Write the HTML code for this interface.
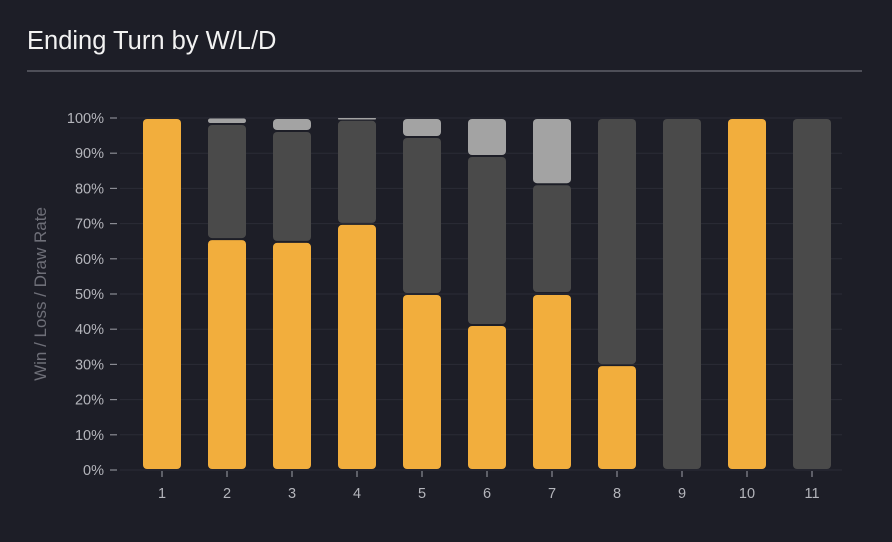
<!DOCTYPE html>
<html><head><style>
body{margin:0;background:#1d1e27;}
</style></head><body>
<svg width="892" height="542" xmlns="http://www.w3.org/2000/svg" style="display:block;font-family:'Liberation Sans',sans-serif">
<rect width="892" height="542" fill="#1d1e27"/>
<text x="27" y="49" fill="#f2f2f2" font-size="25.5">Ending Turn by W/L/D</text>
<rect x="27" y="70" width="835" height="2" fill="#4e4f58"/>
<g stroke="#2b2c37" stroke-width="1">
<line x1="120" x2="842" y1="470" y2="470"/><line x1="120" x2="842" y1="434.8" y2="434.8"/><line x1="120" x2="842" y1="399.6" y2="399.6"/><line x1="120" x2="842" y1="364.4" y2="364.4"/><line x1="120" x2="842" y1="329.2" y2="329.2"/><line x1="120" x2="842" y1="294" y2="294"/><line x1="120" x2="842" y1="258.8" y2="258.8"/><line x1="120" x2="842" y1="223.6" y2="223.6"/><line x1="120" x2="842" y1="188.4" y2="188.4"/><line x1="120" x2="842" y1="153.2" y2="153.2"/><line x1="120" x2="842" y1="118" y2="118"/>
</g>
<g stroke="#8a8b93" stroke-width="1.2">
<line x1="110" x2="117" y1="470" y2="470"/><line x1="110" x2="117" y1="434.8" y2="434.8"/><line x1="110" x2="117" y1="399.6" y2="399.6"/><line x1="110" x2="117" y1="364.4" y2="364.4"/><line x1="110" x2="117" y1="329.2" y2="329.2"/><line x1="110" x2="117" y1="294" y2="294"/><line x1="110" x2="117" y1="258.8" y2="258.8"/><line x1="110" x2="117" y1="223.6" y2="223.6"/><line x1="110" x2="117" y1="188.4" y2="188.4"/><line x1="110" x2="117" y1="153.2" y2="153.2"/><line x1="110" x2="117" y1="118" y2="118"/>
<line x1="162" x2="162" y1="471" y2="477"/><line x1="227" x2="227" y1="471" y2="477"/><line x1="292" x2="292" y1="471" y2="477"/><line x1="357" x2="357" y1="471" y2="477"/><line x1="422" x2="422" y1="471" y2="477"/><line x1="487" x2="487" y1="471" y2="477"/><line x1="552" x2="552" y1="471" y2="477"/><line x1="617" x2="617" y1="471" y2="477"/><line x1="682" x2="682" y1="471" y2="477"/><line x1="747" x2="747" y1="471" y2="477"/><line x1="812" x2="812" y1="471" y2="477"/>
</g>
<g fill="#b4b5bb" font-size="14.5" text-anchor="end">
<text x="104" y="475">0%</text><text x="104" y="439.8">10%</text><text x="104" y="404.6">20%</text><text x="104" y="369.4">30%</text><text x="104" y="334.2">40%</text><text x="104" y="299">50%</text><text x="104" y="263.8">60%</text><text x="104" y="228.6">70%</text><text x="104" y="193.4">80%</text><text x="104" y="158.2">90%</text><text x="104" y="123">100%</text>
</g>
<g fill="#b4b5bb" font-size="14.5" text-anchor="middle">
<text x="162" y="498">1</text><text x="227" y="498">2</text><text x="292" y="498">3</text><text x="357" y="498">4</text><text x="422" y="498">5</text><text x="487" y="498">6</text><text x="552" y="498">7</text><text x="617" y="498">8</text><text x="682" y="498">9</text><text x="747" y="498">10</text><text x="812" y="498">11</text>
</g>
<text transform="translate(46,294) rotate(-90)" text-anchor="middle" fill="#6e6f78" font-size="17">Win / Loss / Draw Rate</text>
<g fill="#f2ae3d">
<rect x="143" y="119" width="38" height="350" rx="4"/>
<rect x="208" y="240.1" width="38" height="228.9" rx="4"/>
<rect x="273" y="242.9" width="38" height="226.1" rx="4"/>
<rect x="338" y="224.9" width="38" height="244.1" rx="4"/>
<rect x="403" y="295" width="38" height="174" rx="4"/>
<rect x="468" y="326" width="38" height="143" rx="4"/>
<rect x="533" y="295" width="38" height="174" rx="4"/>
<rect x="598" y="366.1" width="38" height="102.9" rx="4"/>
<rect x="728" y="119" width="38" height="350" rx="4"/>
</g>
<g fill="#4a4a4a">
<rect x="208" y="125" width="38" height="113.1" rx="4"/>
<rect x="273" y="132" width="38" height="108.9" rx="4"/>
<rect x="338" y="120.8" width="38" height="102.1" rx="4"/>
<rect x="403" y="138" width="38" height="155" rx="4"/>
<rect x="468" y="157" width="38" height="167" rx="4"/>
<rect x="533" y="185.2" width="38" height="106.8" rx="4"/>
<rect x="598" y="119" width="38" height="245.1" rx="4"/>
<rect x="663" y="119" width="38" height="350" rx="4"/>
<rect x="793" y="119" width="38" height="350" rx="4"/>
</g>
<g fill="#a3a3a3">
<rect x="208" y="118.5" width="38" height="4.5" rx="2.2"/>
<rect x="273" y="119" width="38" height="11" rx="4"/>
<rect x="338" y="118" width="38" height="1.5" rx="0.7"/>
<rect x="403" y="119" width="38" height="17" rx="4"/>
<rect x="468" y="119" width="38" height="36" rx="4"/>
<rect x="533" y="119" width="38" height="64.2" rx="4"/>
</g>
</svg>
</body></html>
